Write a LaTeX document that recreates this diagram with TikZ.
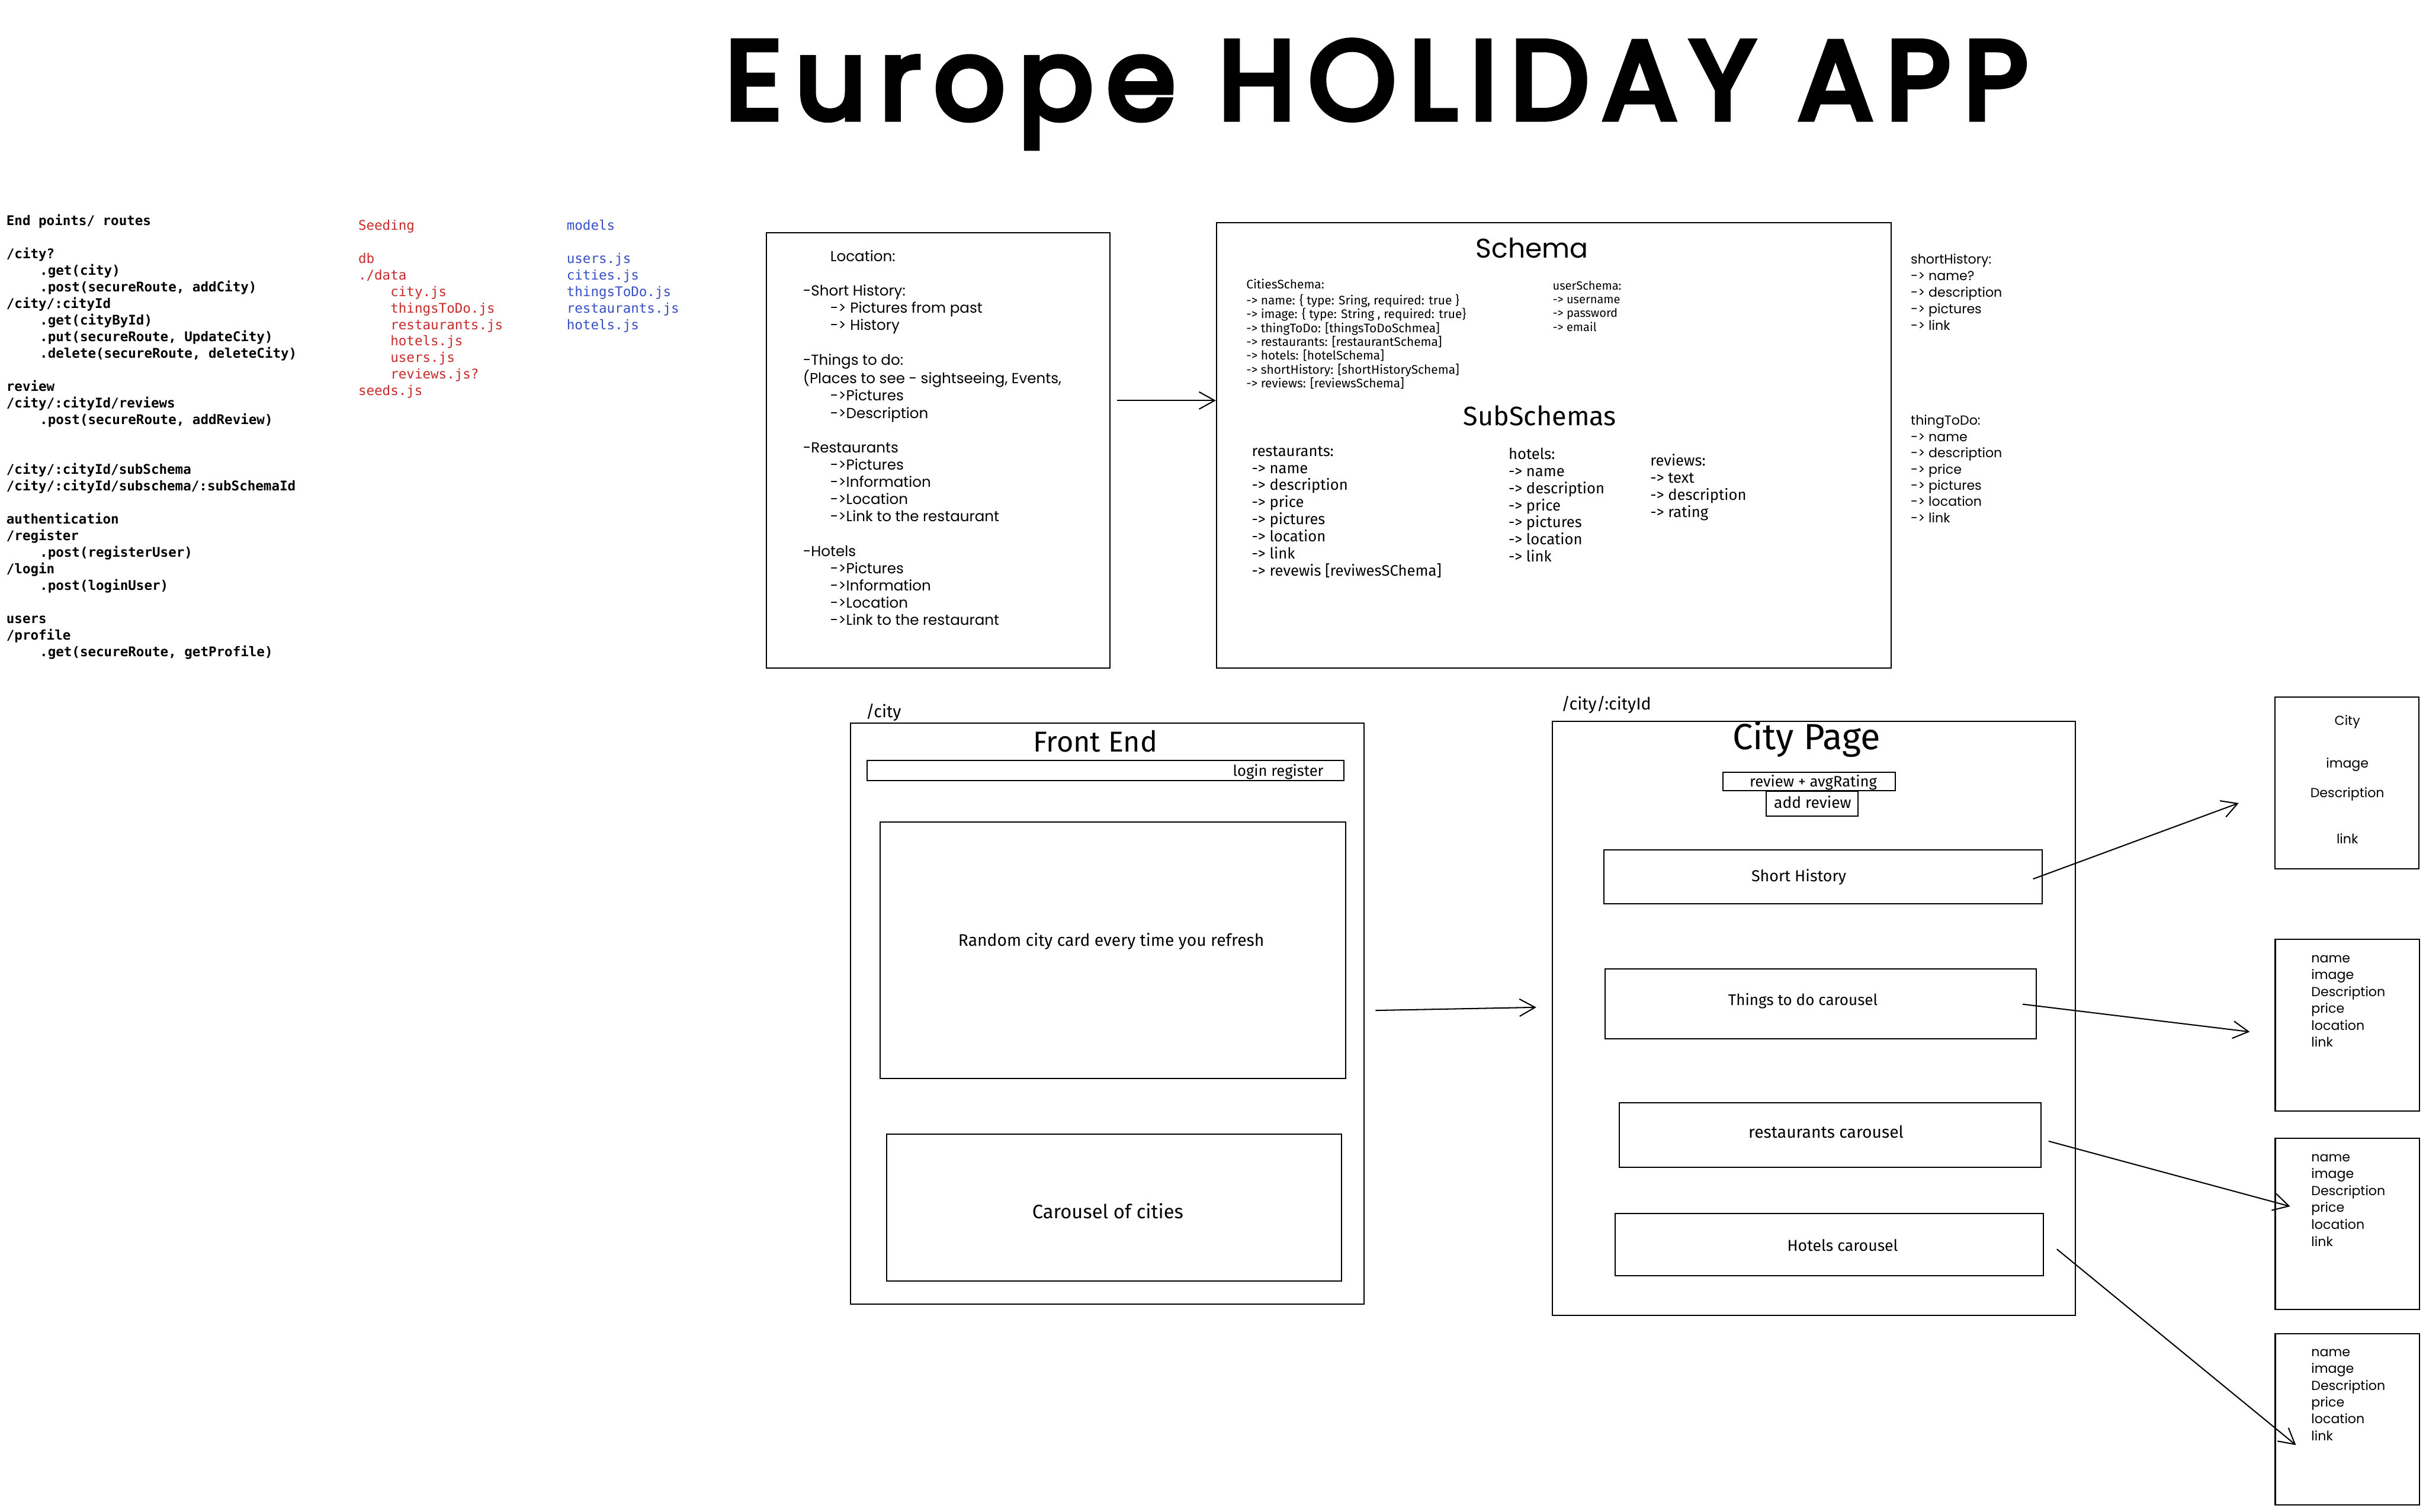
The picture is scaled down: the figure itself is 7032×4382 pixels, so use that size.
\documentclass[tikz,border=0pt]{standalone}
\usepackage{fontspec}
\setmainfont{Fira Sans}
\newfontfamily\hand{Poppins}
\newfontfamily\titlefont[LetterSpace=11.5,FakeBold=5]{Poppins}
\newfontfamily\nar{Fira Sans}
\newfontfamily\mono{DejaVu Sans Mono}
\usetikzlibrary{arrows.meta,fit}
\definecolor{seedred}{HTML}{C92A2A}
\definecolor{modblue}{HTML}{364FC7}
\newcommand\fs[2]{\fontsize{#1}{#2}\selectfont}
\newcommand\codeind{\hspace*{27.5pt}}
\newcommand\seedind{\hspace*{26.5pt}}
\newcommand\locind{\hspace*{22.5pt}}
\begin{document}
\begin{tikzpicture}[x=0.01cm,y=-0.01cm,
  box/.style={draw,line width=1pt,inner sep=0pt},
  arr/.style={line width=1pt,-{Straight Barb[length=0.45cm,width=0.5cm]}},
  blk/.style={anchor=north west,inner sep=0pt,align=left},
  lbl/.style={anchor=base,inner sep=0pt}]
\fill[white] (0,0) rectangle (7032,4382);
\useasboundingbox (0,0) rectangle (7032,4382);

% title
\node[lbl,font=\titlefont\fs{92}{110}] (title) at (3990,345) {Europe HOLIDAY APP};

% routes
\node[blk,font=\mono\bfseries\fs{11}{13.66}] (routes) at (18,619) {\strut End points/ routes\\
\mbox{}\\
/city?\\
\codeind .get(city)\\
\codeind .post(secureRoute, addCity)\\
/city/:cityId\\
\codeind .get(cityById)\\
\codeind .put(secureRoute, UpdateCity)\\
\codeind .delete(secureRoute, deleteCity)\\
\mbox{}\\
review\\
/city/:cityId/reviews\\
\codeind .post(secureRoute, addReview)\\
\mbox{}\\
\mbox{}\\
/city/:cityId/subSchema\\
/city/:cityId/subschema/:subSchemaId\\
\mbox{}\\
authentication\\
/register\\
\codeind .post(registerUser)\\
/login\\
\codeind .post(loginUser)\\
\mbox{}\\
users\\
/profile\\
\codeind .get(secureRoute, getProfile)};

% seeding
\node[blk,text=seedred,font=\mono\fs{11}{13.66}] (seeding) at (1038,632) {\strut Seeding\\
\mbox{}\\
db\\
./data\\
\seedind city.js\\
\seedind thingsToDo.js\\
\seedind restaurants.js\\
\seedind hotels.js\\
\seedind users.js\\
\seedind reviews.js?\\
seeds.js};

% models
\node[blk,text=modblue,font=\mono\fs{11}{13.66}] (models) at (1642,632) {\strut models\\
\mbox{}\\
users.js\\
cities.js\\
thingsToDo.js\\
restaurants.js\\
hotels.js};

% location box
\node[box,fit={(2222,674) (3218,1936)}] (loc) {};
\node[blk,font=\hand\fs{12}{14.22}] (loctext) at (2327,722) {\strut\locind Location:\\
\mbox{}\\
-Short History:\\
\locind -> Pictures from past\\
\locind -> History\\
\mbox{}\\
-Things to do:\\
(Places to see - sightseeing, Events,\\
\locind ->Pictures\\
\locind ->Description\\
\mbox{}\\
-Restaurants\\
\locind ->Pictures\\
\locind ->Information\\
\locind ->Location\\
\locind ->Link to the restaurant\\
\mbox{}\\
-Hotels\\
\locind ->Pictures\\
\locind ->Information\\
\locind ->Location\\
\locind ->Link to the restaurant};

% schema box
\node[box,fit={(3526,645) (5481,1937)}] (schema) {};
\node[lbl,font=\hand\fs{22.3}{26}] (schematitle) at (4441,748) {Schema};
\node[blk,font=\nar\fs{10.2}{11.38}] (cities) at (3612,809) {\strut CitiesSchema:\\
-> name: \{ type: Sring, required: true \}\\
-> image: \{ type: String , required: true\}\\
-> thingToDo: [thingsToDoSchmea]\\
-> restaurants: [restaurantSchema]\\
-> hotels: [hotelSchema]\\
-> shortHistory: [shortHistorySchema]\\
-> reviews: [reviewsSchema]};
\node[blk,font=\nar\fs{9.8}{11.38}] (users) at (4500,811) {\strut userSchema:\\
-> username\\
-> password\\
-> email};
\node[lbl,font=\nar\fs{22}{26}] (subtitle) at (4463,1234) {SubSchemas};
\node[blk,font=\nar\fs{12.5}{14.08}] (subrest) at (3628,1287) {\strut restaurants:\\
-> name\\
-> description\\
-> price\\
-> pictures\\
-> location\\
-> link\\
-> revewis [reviwesSChema]};
\node[blk,font=\nar\fs{12.5}{14.08}] (subhotel) at (4372,1296) {\strut hotels:\\
-> name\\
-> description\\
-> price\\
-> pictures\\
-> location\\
-> link};
\node[blk,font=\nar\fs{12.5}{14.08}] (subrev) at (4783,1315) {\strut reviews:\\
-> text\\
-> description\\
-> rating};

% side notes
\node[blk,font=\hand\fs{10.8}{13.66}] (sidehist) at (5538,730) {\strut shortHistory:\\
-> name?\\
-> description\\
-> pictures\\
-> link};
\node[blk,font=\hand\fs{10.8}{13.37}] (sidething) at (5538,1199) {\strut thingToDo:\\
-> name\\
-> description\\
-> price\\
-> pictures\\
-> location\\
-> link};

% front end
\node[lbl,anchor=base west,font=\nar\fs{14}{16}] (cityroute) at (2509,2080) {/city};
\node[box,fit={(2465,2096) (3953,3781)}] (front) {};
\node[lbl,font=\nar\fs{23.7}{28}] (fronttitle) at (3175,2179) {Front End};
\node[box,fit={(2514,2204) (3896,2263)}] (loginbar) {};
\node[lbl,font=\nar\fs{12.5}{15}] (logintext) at (3705,2250) {login register};
\node[box,fit={(2551,2383) (3901,3126)}] (random) {};
\node[lbl,font=\nar\fs{13.8}{17}] (randomtext) at (3221,2742) {Random city card every time you refresh};
\node[box,fit={(2570,3287) (3888,3713)}] (carousel) {};
\node[lbl,font=\nar\fs{16}{19}] (carouseltext) at (3211,3533) {Carousel of cities};

% city page
\node[lbl,anchor=base west,font=\nar\fs{14}{16}] (cityidroute) at (4525,2058) {/city/:cityId};
\node[box,fit={(4500,2091) (6015,3813)}] (citypage) {};
\node[lbl,font=\nar\fs{30}{34}] (citytitle) at (5236,2173) {City Page};
\node[box,fit={(4994,2239) (5493,2292)}] (revbox) {};
\node[lbl,font=\nar\fs{12.5}{15}] (revtext) at (5256,2281) {review + avgRating};
\node[box,fit={(5120,2293) (5385,2365)}] (addrev) {};
\node[lbl,font=\nar\fs{12.9}{15}] (addrevtext) at (5254,2343) {add review};
\node[box,fit={(4649,2464) (5919,2620)}] (shorth) {};
\node[lbl,font=\nar\fs{13.1}{15}] (shorthtext) at (5214,2555) {Short History};
\node[box,fit={(4652,2809) (5903,3011)}] (things) {};
\node[lbl,font=\nar\fs{12.7}{15}] (thingstext) at (5226,2915) {Things to do carousel};
\node[box,fit={(4694,3197) (5916,3384)}] (rest) {};
\node[lbl,font=\nar\fs{13.8}{16}] (resttext) at (5293,3298) {restaurants carousel};
\node[box,fit={(4681,3518) (5923,3698)}] (hotels) {};
\node[lbl,font=\nar\fs{13}{15}] (hotelstext) at (5341,3627) {Hotels carousel};

% cards
\node[box,fit={(6594,2020) (7012,2519)}] (card1) {};
\node[lbl,font=\hand\fs{10.8}{13}] (c1city) at (6804,2103) {City};
\node[lbl,font=\hand\fs{10.8}{13}] (c1image) at (6804,2226) {image};
\node[lbl,font=\hand\fs{10.8}{13}] (c1desc) at (6804,2312) {Description};
\node[lbl,font=\hand\fs{10.8}{13}] (c1link) at (6804,2446) {link};
\node[box,fit={(6595,2722) (7013,3220)}] (card2) {};
\node[blk,font=\hand\fs{10.8}{13.94}] (c2text) at (6699,2755) {\strut name\\ image\\ Description\\ price\\ location\\ link};
\node[box,fit={(6595,3300) (7013,3795)}] (card3) {};
\node[blk,font=\hand\fs{10.8}{13.94}] (c3text) at (6699,3332) {\strut name\\ image\\ Description\\ price\\ location\\ link};
\node[box,fit={(6595,3867) (7013,4363)}] (card4) {};
\node[blk,font=\hand\fs{10.8}{13.8}] (c4text) at (6699,3898) {\strut name\\ image\\ Description\\ price\\ location\\ link};

% arrows
\coordinate (a1s) at (3238,1161);
\draw[arr] (a1s) -- (a1s -| schema.west);
\coordinate (a2s) at (3987,2929);
\coordinate (a2e) at (4453,2920);
\draw[arr] (a2s) -- (a2e);
\coordinate (a3s) at (5893,2548);
\coordinate (a3e) at (6489,2328);
\draw[arr] (a3s) -- (a3e);
\coordinate (a4s) at (5863,2911);
\coordinate (a4e) at (6521,2991);
\draw[arr] (a4s) -- (a4e);
\coordinate (a5s) at (5938,3308);
\coordinate (a5e) at (6638,3497);
\draw[arr] (a5s) -- (a5e);
\coordinate (a6s) at (5962,3621);
\coordinate (a6e) at (6655,4189);
\draw[arr] (a6s) -- (a6e);
\end{tikzpicture}
\end{document}
